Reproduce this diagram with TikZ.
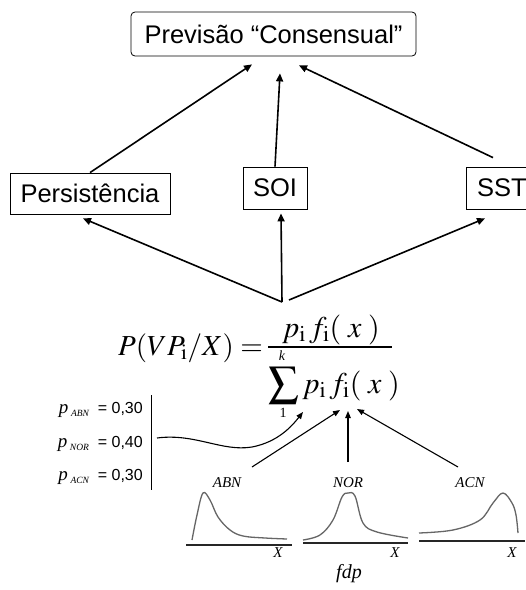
\documentclass[tikz,border=0pt]{standalone}
\usepackage{mathptmx}
\usepackage[no-math]{fontspec}
\setmainfont{Liberation Sans}
\newfontfamily\timesf{Liberation Serif}
\usetikzlibrary{arrows.meta}
\begin{document}
\begin{tikzpicture}[x=1pt,y=-1pt,
  box/.style={draw,line width=0.8pt,font=\fontsize{25.5}{28}\selectfont,inner sep=0pt},
  big/.style={-{Triangle[length=8pt,width=7pt]},line width=1.6pt},
  small/.style={-{Triangle[length=7pt,width=5.5pt]},line width=1.1pt},
  lbl/.style={font=\timesf\itshape\fontsize{15}{17}\selectfont,inner sep=0pt},
  pdf/.style={draw=black!60,line width=1.3pt},
  axis/.style={draw=black!85,line width=1.2pt},
  math/.style={inner sep=0pt,font=\fontsize{30}{32}\selectfont},
  lim/.style={inner sep=0pt,font=\timesf\fontsize{14}{15}\selectfont},
  prob/.style={inner sep=0pt,anchor=base east,font=\fontsize{16}{17}\selectfont}]
\clip (0,0) rectangle (526,590);
\fill[white] (0,0) rectangle (526,590);

% boxes
\node[box,rounded corners=4pt,minimum width=285pt,minimum height=44pt] (top) at (273.5,34) {Previsão “Consensual”};
\node[box,minimum width=160pt,minimum height=41pt] (pers) at (90,193.5) {Persistência};
\node[box,minimum width=64pt,minimum height=42pt] (soi) at (275,188) {SOI};
\node[box,minimum width=71pt,minimum height=42pt,anchor=west] (sst) at (466,188) {SST};

% upper arrows
\draw[big] (pers.north) -- ([xshift=-21.5pt,yshift=-8pt]top.south);
\draw[big] (soi.north) -- ([xshift=6.5pt,yshift=-17pt]top.south);
\draw[big] ([xshift=27pt,yshift=9pt]sst.north west) -- ([xshift=25.5pt,yshift=-9pt]top.south);

% hub
\coordinate (hub) at (282,302);
\draw[big] (hub) -- ([xshift=-7pt,yshift=-4pt]pers.south);
\draw[big] (hub) -- ([xshift=6pt,yshift=-4pt]soi.south);
\draw[big] ([xshift=7pt,yshift=2pt]hub) -- ([xshift=19pt,yshift=-9pt]sst.south west);

% formula
\node[math,anchor=base west,font=\fontsize{29}{31}\selectfont] (lhs) at (118,355)
 {$P(VP_{\mathrm{i}}/X)=$};
\node[math,anchor=base] (num) at (331,337)
 {$p_{\mathrm{i}}\,f_{\mathrm{i}}(\;x\;)$};
\draw[line width=1.1pt] (268,347) -- (392,347);
\node[math,anchor=base west] (den) at (268,393)
 {$\displaystyle\sum p_{\mathrm{i}}\,f_{\mathrm{i}}(\;x\;)$};
\node[lim,font=\timesf\itshape\fontsize{14}{15}\selectfont] (klim) at (282,356) {k};
\node[lim] (onelim) at (283,413) {1};

% probabilities
\node[prob] (pabn) at (143,413) {{\timesf\itshape\fontsize{19}{20}\selectfont p}\,\raisebox{-3pt}{\timesf\itshape\fontsize{9.5}{10}\selectfont ABN}\ \ = 0,30};
\node[prob] (pnor) at (143,447) {{\timesf\itshape\fontsize{19}{20}\selectfont p}\,\raisebox{-3pt}{\timesf\itshape\fontsize{9.5}{10}\selectfont NOR}\ \ = 0,40};
\node[prob] (pacn) at (143,480) {{\timesf\itshape\fontsize{19}{20}\selectfont p}\,\raisebox{-3pt}{\timesf\itshape\fontsize{9.5}{10}\selectfont ACN}\ \ = 0,30};
\draw[line width=1pt] (151,395) -- (151,490);

% arrow tips into denominator
\coordinate (d1) at (303,412);
\coordinate (d2) at (340,410);
\coordinate (d3) at (348,411);
\coordinate (d4) at (357,409);
\coordinate (w0) at (157,438);
\draw[small] (w0) .. controls (195,433) and (222,452) .. (252,447) .. controls (278,442) and (292,426) .. (d1);

% pdf labels
\node[lbl] (abn) at (227,483) {ABN};
\node[lbl] (nor) at (348,483) {NOR};
\node[lbl] (acn) at (470,483) {ACN};
\draw[small] ([xshift=25pt,yshift=16pt]abn.center) -- (d2);
\draw[small] ([yshift=21pt]nor.center) -- (d3);
\draw[small] ([xshift=-12pt,yshift=16pt]acn.center) -- (d4);

% curves
\draw[pdf] plot[smooth,tension=0.6] coordinates {(192,540) (197,515) (203,493) (210,500) (218,517) (230,530) (243,536) (265,538) (287,539)};
\draw[pdf] plot[smooth,tension=0.6] coordinates {(303,540) (320,535) (333,520) (342,497) (348,493) (355,496) (363,523) (377,532) (408,538)};
\draw[pdf] plot[smooth,tension=0.6] coordinates {(419,533) (453,530) (480,520) (493,503) (503,493) (512,503) (516,515) (518,533)};

% axes
\draw[axis] (186,545) -- (292,545);
\draw[axis] (303,543) -- (408,543);
\draw[axis] (419,541) -- (525,541);
\node[lbl] (x1) at (278,553) {X};
\node[lbl] (x2) at (395,553) {X};
\node[lbl] (x3) at (512,553) {X};
\node[lbl,font=\timesf\itshape\fontsize{20}{22}\selectfont] (fdp) at (349,574) {fdp};
\end{tikzpicture}
\end{document}
